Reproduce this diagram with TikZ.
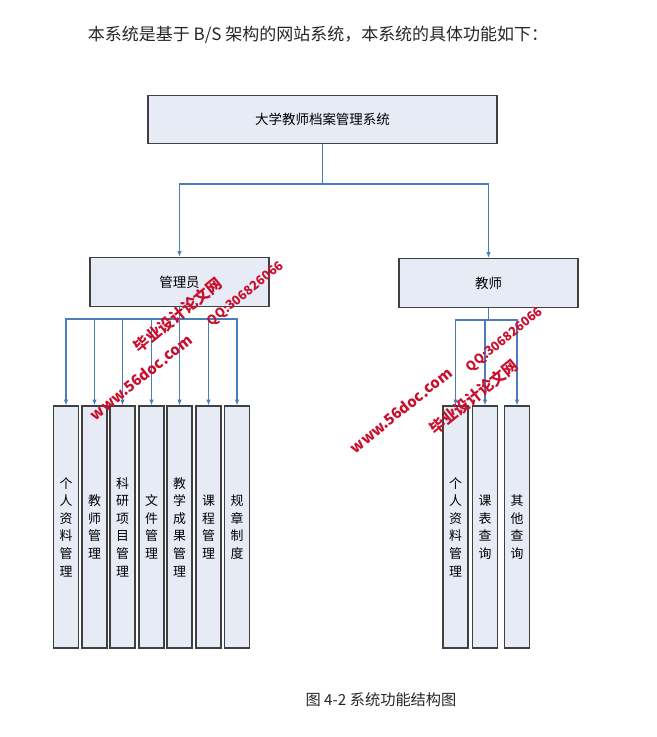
\documentclass[tikz,border=0pt]{standalone}
\usepackage{fontspec}
\setmainfont{Noto Sans CJK SC}
\usetikzlibrary{arrows.meta,positioning}
\definecolor{cfill}{HTML}{E7EBF5}
\definecolor{cedge}{HTML}{404040}
\definecolor{cline}{HTML}{4A7EBB}
\definecolor{cwm}{HTML}{C8102E}
\tikzset{
  box/.style={draw=cedge, fill=cfill, line width=1pt, inner sep=0pt, align=center},
  sysn/.style={box, minimum width=10.47cm, minimum height=1.44cm, font=\fontsize{11.5}{14}\selectfont},
  rolen/.style={box, minimum width=5.37cm, minimum height=1.47cm, font=\fontsize{11.5}{14}\selectfont},
  leafn/.style={box, minimum width=0.75cm, minimum height=7.26cm, font=\fontsize{11}{15}\selectfont},
  link/.style={draw=cline, line width=0.9pt},
  pre/.style={link, -{Latex[length=1.7mm,width=1.3mm]}},
  wmark/.style={text=cwm, rotate=39, inner sep=0pt, font=\bfseries\fontsize{12.7}{13}\selectfont},
  wmcn/.style={wmark, font=\bfseries\fontsize{13.2}{14}\selectfont},
  wmqq/.style={wmark, font=\bfseries\fontsize{10.8}{12}\selectfont},
  captext/.style={inner sep=0pt, text=black!85},
}

\begin{document}
\begin{tikzpicture}[x=0.03cm,y=-0.03cm]
\useasboundingbox (0,0) rectangle (657,737);
\node[captext, font=\fontsize{14.5}{16}\selectfont] (head) at (318,35) {本系统是基于 B/S 架构的网站系统，本系统的具体功能如下：};
\node[sysn] (sys) at (322.5,119.5) {大学教师档案管理系统};
\node[rolen] (admin) at (179.5,282) {管理员};
\node[rolen] (teacher) at (488.5,283) {教师};
% leaves under admin
\node[leafn] (a1) at (66,527) {个\\人\\资\\料\\管\\理};
\node[leafn] (a2) at (94.5,527) {教\\师\\管\\理};
\node[leafn] (a3) at (122.5,527) {科\\研\\项\\目\\管\\理};
\node[leafn] (a4) at (151.5,527) {文\\件\\管\\理};
\node[leafn] (a5) at (179.5,527) {教\\学\\成\\果\\管\\理};
\node[leafn] (a6) at (208.5,527) {课\\程\\管\\理};
\node[leafn] (a7) at (237,527) {规\\章\\制\\度};
% leaves under teacher
\node[leafn] (t1) at (455.5,527) {个\\人\\资\\料\\管\\理};
\node[leafn] (t2) at (485,527) {课\\表\\查\\询};
\node[leafn] (t3) at (517,527) {其\\他\\查\\询};
% buses
\coordinate (topbus) at (322.5,184);
\coordinate (abus) at (179.5,319);
\coordinate (tbus) at (488.5,320);
\draw[link] (sys.south) -- (topbus);
\draw[pre] (topbus) -| (admin.north);
\draw[pre] (topbus) -| (teacher.north);
\draw[link] (admin.south) -- (abus);
\foreach \n in {a1,a2,a3,a4,a5,a6,a7}
  \draw[pre] (abus) -| (\n.north);
\draw[link] (teacher.south) -- (tbus);
\foreach \n in {t1,t2,t3}
  \draw[pre] (tbus) -| (\n.north);
% watermarks
\node[wmark] (wm1) at (141,377) {www.56doc.com};
\node[wmcn] (wm2) at (178,315) {毕业设计论文网};
\node[wmqq] (wm3) at (246,294) {QQ:306826066};
\node[wmark] (wm4) at (401,410) {www.56doc.com};
\node[wmcn] (wm5) at (474,397) {毕业设计论文网};
\node[wmqq] (wm6) at (505,340) {QQ:306826066};
\node[captext, font=\fontsize{13}{15}\selectfont] (caption) at (381,700) {图 4-2 系统功能结构图};
\end{tikzpicture}
\end{document}
